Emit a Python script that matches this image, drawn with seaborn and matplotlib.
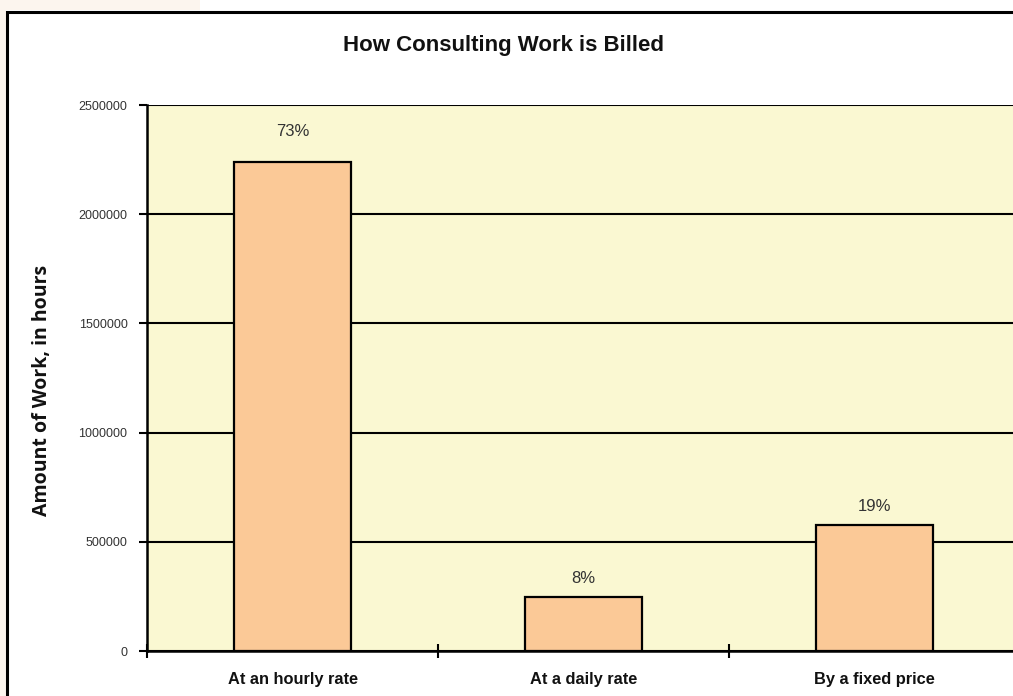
import matplotlib
matplotlib.use("Agg")
import matplotlib.pyplot as plt
import matplotlib.patches as mpatches
from matplotlib.ticker import FixedLocator
import seaborn as sns
import pandas as pd

# Chart data
categories = ["At an hourly rate", "At a daily rate", "By a fixed price"]
hours = [2240000, 247000, 577000]
share_labels = ["73%", "8%", "19%"]
y_ticks = [0, 500000, 1000000, 1500000, 2000000, 2500000]

df = pd.DataFrame({"method": categories, "hours": hours})

sns.set_theme(style="white")
plt.rcParams["font.family"] = ["Liberation Sans", "DejaVu Sans"]

W, H = 1013, 696
fig = plt.figure(figsize=(W / 100, H / 100), dpi=100, facecolor="white")

# faint tinted margin outside the frame
fig.add_artist(mpatches.Rectangle((0, 0), 6 / W, 1, transform=fig.transFigure,
                                  facecolor="#fcf5ee", edgecolor="none", zorder=0))
fig.add_artist(mpatches.Rectangle((0, 1 - 10 / H), 200 / W, 10 / H, transform=fig.transFigure,
                                  facecolor="#fcf5ee", edgecolor="none", zorder=0))
# outer frame
fig.add_artist(mpatches.Rectangle((7 / W, -0.1), 1.2, 1.1 - 11.5 / H, transform=fig.transFigure,
                                  facecolor="none", edgecolor="black", linewidth=2.2, zorder=1))

ax = fig.add_axes([147 / W, 45 / H, 873 / W, 546 / H])
ax.set_facecolor("#faf8d2")

sns.barplot(data=df, x="method", y="hours", ax=ax, color="#fbc997",
            saturation=1, width=0.4, edgecolor="black", linewidth=1.6, zorder=3)

ax.set_xlim(-0.5, 2.5)
ax.set_ylim(0, 2500000)
ax.set_yticks(y_ticks)
ax.set_yticklabels([str(v) for v in y_ticks])
ax.yaxis.grid(True, color="black", linewidth=1.5)
ax.set_axisbelow(True)

for s in ["top", "right"]:
    ax.spines[s].set_visible(False)
for s in ["left", "bottom"]:
    ax.spines[s].set_visible(True)
    ax.spines[s].set_color("black")
    ax.spines[s].set_linewidth(1.8)

ax.tick_params(axis="y", which="major", direction="out", length=6, width=1.5,
               color="black", labelsize=9, labelcolor="#333333", pad=8, left=True)
ax.tick_params(axis="x", which="major", length=0, pad=15, labelsize=11.8)
ax.xaxis.set_minor_locator(FixedLocator([-0.5, 0.5, 1.5, 2.5]))
ax.tick_params(axis="x", which="minor", direction="inout", length=10, width=1.5,
               color="black", bottom=True)
for lbl in ax.get_xticklabels():
    lbl.set_fontweight("bold")
    lbl.set_color("#111111")

ax.set_xlabel("")
ax.set_ylabel("")

# percentage share above each bar
label_offsets = [22, 13, 13]
for i, (v, txt) in enumerate(zip(hours, share_labels)):
    ax.annotate(txt, xy=(i, v), xytext=(0, label_offsets[i]), textcoords="offset points",
                ha="center", va="center", fontsize=12, color="#333333")

fig.text(503 / W, 1 - 46 / H, "How Consulting Work is Billed", ha="center", va="center",
         fontsize=16, fontweight="bold", color="#111111")
fig.text(42 / W, 1 - 390 / H, "Amount of Work, in hours", rotation=90, ha="center",
         va="center", fontsize=14, fontweight="bold", color="#111111",
         family=["Open Sans", "DejaVu Sans"])

fig.savefig("out.png", dpi=100, facecolor="white")
